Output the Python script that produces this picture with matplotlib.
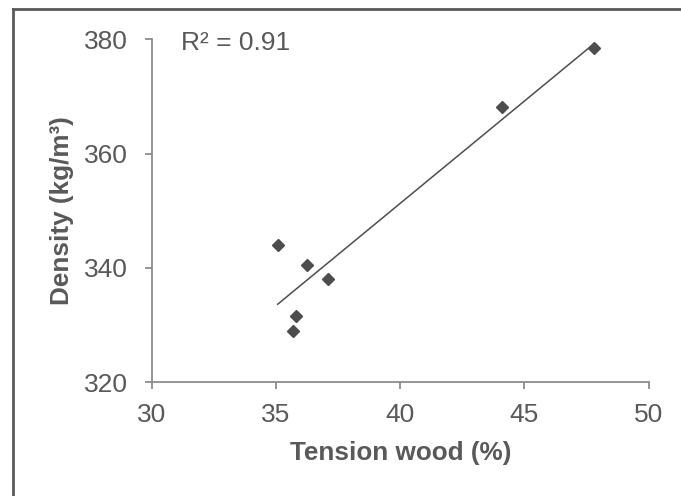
import numpy as np
import matplotlib
matplotlib.use('Agg')
import matplotlib.pyplot as plt
from matplotlib.lines import Line2D

# данные
tension_wood = [47.8, 44.1, 35.07, 36.24, 37.11, 35.81, 35.70]
density = [378.5, 368.2, 344.1, 340.5, 338.0, 331.6, 329.0]
x_ticks = [30, 35, 40, 45, 50]
y_ticks = [320, 340, 360, 380]
r2_label = 'R² = 0.91'

plt.rcParams['font.family'] = ['Liberation Sans', 'DejaVu Sans']
txt = '#595959'
axis_col = '#8c8c8c'

fig = plt.figure(figsize=(6.81, 4.96), dpi=100)
ax = fig.add_axes([0.2228, 0.2292, 0.7298, 0.6916])

ax.plot(tension_wood, density, 'D', color='#4d4d4d', markersize=6.3, zorder=3)

# линейный тренд
k, b = np.polyfit(tension_wood, density, 1)
xs = np.array([min(tension_wood), max(tension_wood)])
ax.plot(xs, k * xs + b, color='#4d4d4d', lw=1.1)

ax.set_xlim(30, 50)
ax.set_ylim(320, 380)
ax.set_xticks(x_ticks)
ax.set_yticks(y_ticks)
for s in ['top', 'right']:
    ax.spines[s].set_visible(False)
for s in ['left', 'bottom']:
    ax.spines[s].set_color(axis_col)
    ax.spines[s].set_linewidth(1.3)
ax.tick_params(direction='out', length=5, width=1.3, color=axis_col,
               labelcolor=txt, labelsize=19)
ax.tick_params(axis='x', pad=10)
ax.tick_params(axis='y', pad=12)

ax.set_xlabel('Tension wood (%)', fontsize=18.8, fontweight='bold', color=txt, labelpad=10)
ax.set_ylabel('Density (kg/m³)', fontsize=18.8, fontweight='bold', color=txt, labelpad=7.5)

ax.text(0.059, 0.99, r2_label, transform=ax.transAxes, fontsize=19,
        color=txt, va='center', ha='left')

# рамка вокруг графика (видны только левая и верхняя стороны)
fig.add_artist(Line2D([12.5 / 681, 12.5 / 681], [0, 1 - 8.7 / 496],
                      transform=fig.transFigure, color='#5a5a5a', lw=2))
fig.add_artist(Line2D([12.5 / 681, 1], [1 - 8.7 / 496, 1 - 8.7 / 496],
                      transform=fig.transFigure, color='#5a5a5a', lw=2))

fig.savefig('out.png', dpi=100)
